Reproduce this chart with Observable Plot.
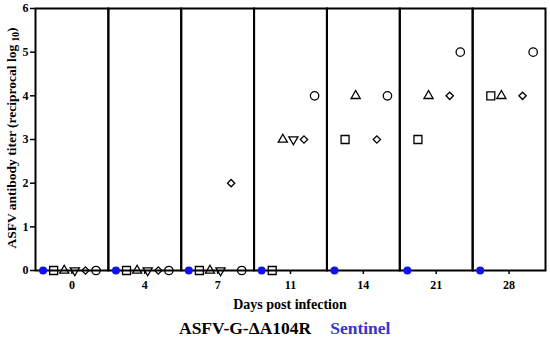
<!DOCTYPE html>
<html>
<head>
<meta charset="utf-8">
<script src="https://cdn.jsdelivr.net/npm/d3@7"></script>
<script src="https://cdn.jsdelivr.net/npm/@observablehq/plot@0.6"></script>
<style>
  body { margin: 0; background: white; }
  #wrap { width: 550px; font-family: "Liberation Serif", "Times New Roman", serif; font-weight: bold; }
  .xlabel { margin-left: 35px; width: 510px; text-align: center; font-size: 14px; line-height: 18px; margin-top: 2px; }
  .legend { padding-left: 179px; font-size: 17.5px; line-height: 24px; white-space: nowrap; margin-top: 2px; }
  .legend .sent { color: #3636cc; margin-left: 19px; }
</style>
</head>
<body>
<div id="wrap"></div>
<script>
const days = ["0", "4", "7", "11", "14", "21", "28"];
const seriesNames = ["Sentinel", "Pig 1", "Pig 2", "Pig 3", "Pig 4", "Pig 5"];
const sentinel = [0, 0, 0, 0, 0, 0, 0];
const pig1 = [0, 0, 0, 0, 3, 3, 4];      // square
const pig2 = [0, 0, 0, 3, 4, 4, 4];      // triangle
const pig3 = [0, 0, 0, 3, null, null, null]; // inverted triangle
const pig4 = [0, 0, 2, 3, 3, 4, 4];      // diamond
const pig5 = [0, 0, 0, 4, 4, 5, 5];      // circle
const yTicks = [0, 1, 2, 3, 4, 5, 6];

const seriesValues = [sentinel, pig1, pig2, pig3, pig4, pig5];
const rows = (i) => days.map((d, j) => ({day: d, series: seriesNames[i], value: seriesValues[i][j]}))
  .filter(r => r.value !== null);

const triangleDown = {
  draw(context, size) {
    const y = -Math.sqrt(size / (Math.sqrt(3) * 3));
    context.moveTo(0, -y * 2);
    context.lineTo(-Math.sqrt(3) * y, y);
    context.lineTo(Math.sqrt(3) * y, y);
    context.closePath();
  }
};

const hollow = {fx: "day", x: "series", y: "value", fill: "none", stroke: "black", strokeWidth: 1.3};

const chart = Plot.plot({
  width: 550,
  height: 294,
  marginLeft: 35,
  marginRight: 5,
  marginTop: 8,
  marginBottom: 24,
  style: {fontFamily: "Liberation Serif, Times New Roman, serif", fontWeight: "bold", fontSize: "12px", background: "white", overflow: "visible", color: "black"},
  fx: {domain: days, padding: 0, round: false},
  x: {type: "point", domain: seriesNames, padding: 0.94, align: 0.38, round: false, axis: null},
  y: {domain: [0, 6]},
  marks: [
    Plot.frame({stroke: "black", strokeWidth: 2}),
    Plot.axisY({ticks: yTicks, tickSize: 5, tickPadding: 2, strokeWidth: 1.5, label: null, tickFormat: d => d}),
    Plot.axisFx({anchor: "bottom", tickSize: 4, tickPadding: 6, strokeWidth: 1.5, label: null}),
    Plot.dot(rows(0), {fx: "day", x: "series", y: "value", r: 4, fill: "#1010f0", stroke: "none"}),
    Plot.dot(rows(1), {...hollow, symbol: "square", r: 4.5}),
    Plot.dot(rows(2), {...hollow, symbol: "triangle", r: 3.4}),
    Plot.dot(rows(3), {...hollow, symbol: triangleDown, r: 3.4}),
    Plot.dot(rows(4), {...hollow, symbol: "diamond2", r: 3.3}),
    Plot.dot(rows(5), {...hollow, symbol: "circle", r: 4.2})
  ]
});

// y-axis title with subscript
const svg = d3.select(chart.tagName.toLowerCase() === "svg" ? chart : chart.querySelector("svg"));
const t = svg.append("text")
  .attr("transform", "translate(16,138) rotate(-90)")
  .attr("text-anchor", "middle")
  .attr("font-size", 13.5)
  .attr("font-weight", "bold")
  .attr("fill", "black");
t.append("tspan").text("ASFV antibody titer (reciprocal log ");
t.append("tspan").attr("font-size", 9.5).attr("dy", 3).text("10");
t.append("tspan").attr("dy", -3).text(")");

const wrap = document.getElementById("wrap");
wrap.appendChild(chart);
const xl = document.createElement("div");
xl.className = "xlabel";
xl.textContent = "Days post infection";
wrap.appendChild(xl);
const lg = document.createElement("div");
lg.className = "legend";
lg.innerHTML = '<span>ASFV-G-ΔA104R</span><span class="sent">Sentinel</span>';
wrap.appendChild(lg);
</script>
</body>
</html>
